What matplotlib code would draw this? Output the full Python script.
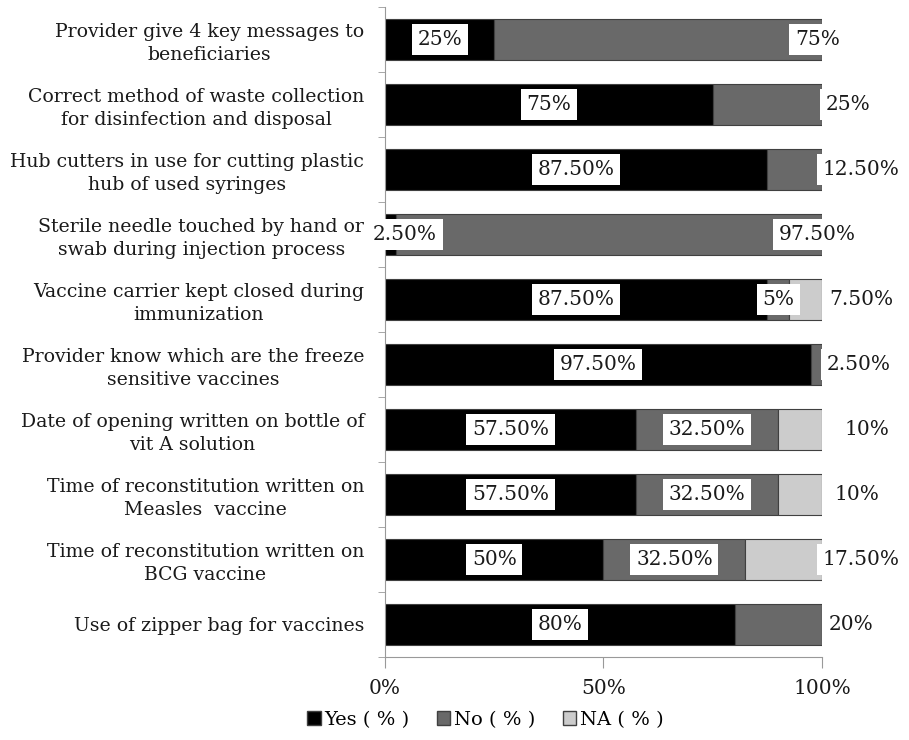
import matplotlib.pyplot as plt
from matplotlib.patches import Patch

plt.rcParams['font.family'] = 'DejaVu Serif'

categories = [
    'Provider give 4 key messages to\nbeneficiaries',
    'Correct method of waste collection\nfor disinfection and disposal',
    'Hub cutters in use for cutting plastic\nhub of used syringes',
    'Sterile needle touched by hand or\nswab during injection process',
    'Vaccine carrier kept closed during\nimmunization',
    'Provider know which are the freeze\nsensitive vaccines',
    'Date of opening written on bottle of\nvit A solution',
    'Time of reconstitution written on\nMeasles  vaccine',
    'Time of reconstitution written on\nBCG vaccine',
    'Use of zipper bag for vaccines',
]
yes_pct = [25, 75, 87.5, 2.5, 87.5, 97.5, 57.5, 57.5, 50, 80]
no_pct = [75, 25, 12.5, 97.5, 5, 2.5, 32.5, 32.5, 32.5, 20]
na_pct = [0, 0, 0, 0, 7.5, 0, 10, 10, 17.5, 0]

series = [('Yes ( % )', yes_pct, '#000000'),
          ('No ( % )', no_pct, '#696969'),
          ('NA ( % )', na_pct, '#cccccc')]

# labels that sit away from the middle of their segment: (row, series) -> x
label_x = {
    (0, 1): 99, (1, 1): 106, (2, 1): 109, (3, 0): 4.6, (3, 1): 99,
    (4, 2): 109, (5, 1): 108.5, (6, 2): 110.4, (7, 2): 108,
    (8, 2): 109, (9, 1): 106.6,
}


def fmt(v):
    return f'{v:.2f}%' if v % 1 else f'{v:.0f}%'


fig = plt.figure(figsize=(9.09, 7.40), dpi=100)
ax = fig.add_axes([0.4235, 0.1122, 0.4807, 0.8784])

ypos = list(range(len(categories)))
left = [0.0] * len(categories)
for s, (name, vals, color) in enumerate(series):
    ax.barh(ypos, vals, left=left, height=0.62, color=color,
            edgecolor='#404040', linewidth=0.8, label=name)
    for i, v in enumerate(vals):
        if v == 0:
            continue
        x = label_x.get((i, s), left[i] + v / 2)
        ax.text(x, i, fmt(v), ha='center', va='center', fontsize=14.5,
                color='#1a1a1a', zorder=5,
                bbox=dict(boxstyle='square,pad=0.28', fc='white', ec='none'))
    left = [l + v for l, v in zip(left, vals)]

ax.set_xlim(0, 100)
ax.set_ylim(len(categories) - 0.5, -0.5)
ax.set_xticks([0, 50, 100])
ax.set_xticklabels(['0%', '50%', '100%'], fontsize=14.5, color='#1a1a1a')
ax.set_yticks(ypos)
ax.set_yticklabels(categories, fontsize=13.6, color='#1a1a1a',
                   linespacing=1.3, multialignment='center')
ax.tick_params(axis='y', length=0, pad=15)
ax.set_yticks([i - 0.5 for i in range(len(categories) + 1)], minor=True)
ax.tick_params(axis='y', which='minor', length=5, color='#999999')
ax.tick_params(axis='x', length=8, color='#999999', pad=8)

for side in ('top', 'right'):
    ax.spines[side].set_visible(False)
for side in ('left', 'bottom'):
    ax.spines[side].set_color('#999999')

handles = [Patch(facecolor=c, edgecolor='#404040', label=n)
           for n, _, c in series]
fig.legend(handles=handles, loc='center', bbox_to_anchor=(0.534, 0.027),
           ncol=3, frameon=False, fontsize=14, handlelength=0.7,
           handleheight=0.7, handletextpad=0.2, columnspacing=1.4)

fig.savefig('out.png', dpi=100)
